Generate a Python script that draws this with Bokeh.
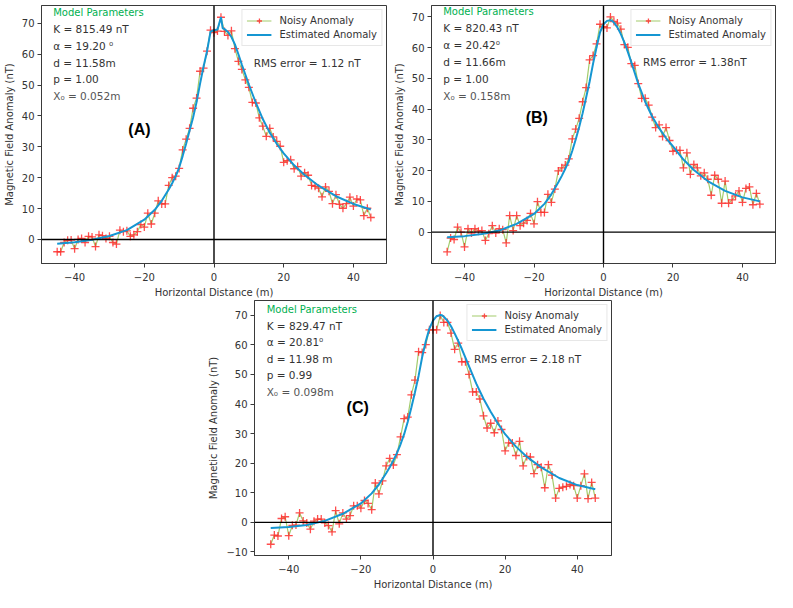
from bokeh.plotting import figure
from bokeh.models import (Span, Label, Legend, LegendItem, FixedTicker, Spacer,
                          CustomJSTickFormatter)
from bokeh.layouts import row, column
from bokeh.embed import file_html
from bokeh.resources import INLINE

# ---------------- data ----------------
x_vals = list(range(-45, 46))

noisy_A = [-4.0, -4.0, -1.0, -0.3, -0.2, -3.0, 0.0, 0.3, -1.0, 1.0,
           0.8, -2.3, 1.5, 1.2, 0.3, 1.0, -1.0, -1.5, 3.0, 2.5,
           2.8, 1.0, 1.5, 2.5, 4.8, 4.0, 8.5, 5.0, 8.5, 12.5,
           11.5, 11.5, 17.5, 20.0, 20.5, 23.0, 29.0, 32.5, 36.0, 42.5,
           45.8, 54.5, 55.5, 61.0, 67.8, 67.0, 67.5, 72.0, 67.4, 66.1,
           67.6, 61.8, 57.7, 55.1, 51.7, 49.3, 44.4, 44.2, 39.4, 36.7,
           33.4, 36.0, 33.2, 31.8, 30.2, 25.0, 25.5, 25.8, 22.9, 23.6,
           20.5, 21.6, 20.8, 17.5, 17.2, 16.6, 13.8, 17.0, 15.6, 11.6,
           14.5, 11.4, 10.1, 11.6, 13.7, 10.8, 13.1, 12.8, 7.7, 10.1,
           7.1]

noisy_B = [-6.4, -1.9, -2.4, 1.6, 0.0, -4.8, 1.1, -0.3, 1.1, 0.3,
           0.5, -2.7, -0.5, 2.1, -0.3, 1.1, 0.8, -3.5, 5.4, 0.5,
           5.4, 2.1, 2.9, 3.8, 6.1, 2.7, 9.9, 6.4, 6.4, 12.3,
           9.7, 14.0, 19.9, 20.9, 21.8, 23.8, 30.3, 33.5, 37.0, 42.4,
           47.0, 56.0, 57.4, 61.2, 67.6, 66.8, 66.4, 70.0, 68.5, 68.0,
           66.0, 61.0, 60.1, 54.8, 54.2, 48.3, 43.5, 43.5, 41.3, 37.4,
           34.0, 34.9, 31.1, 34.0, 29.8, 26.3, 26.6, 26.6, 20.9, 25.8,
           18.8, 22.0, 20.9, 18.3, 19.3, 17.2, 12.0, 18.5, 17.2, 9.4,
           16.6, 9.4, 10.5, 11.8, 13.4, 9.7, 14.2, 14.7, 8.9, 12.6,
           9.1]

noisy_C = [-7.4, -4.3, -4.6, 1.3, 1.9, -4.5, -1.0, -0.9, 3.2, 0.5,
           -0.2, -2.3, 0.4, 1.1, 1.1, -0.2, -1.1, -3.2, 4.0, -0.5,
           3.2, 1.1, 2.3, 5.6, 5.6, 4.8, 7.4, 6.4, 4.3, 13.3,
           9.6, 14.0, 19.1, 21.6, 19.4, 22.9, 28.9, 35.1, 35.6, 43.1,
           48.1, 57.7, 57.4, 60.1, 65.1, 65.1, 65.1, 69.9, 67.6, 67.6,
           64.0, 58.5, 60.6, 54.3, 54.3, 50.0, 44.1, 44.1, 41.7, 36.0,
           31.9, 33.5, 30.3, 34.3, 31.4, 24.2, 26.9, 26.8, 22.6, 27.4,
           19.1, 22.3, 22.1, 16.5, 19.5, 18.6, 11.7, 19.5, 16.0, 8.2,
           11.5, 11.9, 12.2, 12.8, 12.4, 8.2, 12.4, 16.4, 8.0, 13.5,
           8.2]

est_x = [-45, -40, -35, -30, -25, -20, -17, -15, -13,
         -12, -11, -10, -9, -8, -7, -6, -5, -4, -3, -2, -1,
         0, 1, 2, 2.5, 3, 4, 5, 6, 7, 8,
         10, 12, 14, 16, 18, 20, 23, 26, 30, 35, 40, 45]

est_A = [-1.4, -0.9, -0.1, 1.1, 3.0, 6.4, 9.6, 12.5, 16.2,
         18.2, 20.5, 23.3, 27.0, 31.0, 35.3, 39.5, 44.5, 50.5, 56.0, 61.0, 67.3,
         67.8, 68.0, 72.0, 68.4, 68.2, 67.2, 65.6, 63.2, 60.0, 56.6,
         50.2, 44.3, 39.0, 34.6, 31.0, 27.9, 24.0, 20.9, 17.4, 14.0, 11.5, 9.7]

est_B = [-1.7, -1.3, -0.6, 0.5, 2.7, 5.9, 9.2, 12.3, 16.2,
         18.3, 20.6, 23.1, 26.4, 30.1, 34.2, 38.7, 43.8, 48.9, 54.8, 60.1, 65.0,
         67.6, 68.7, 68.9, 68.7, 68.2, 66.6, 64.4, 61.7, 58.6, 55.3,
         48.3, 42.4, 37.6, 33.8, 30.6, 27.9, 23.6, 20.2, 16.6, 13.4, 11.3, 10.0]

est_C = [-1.9, -1.6, -0.9, 0.5, 2.9, 6.4, 9.8, 12.8, 16.6,
         18.6, 20.9, 23.4, 26.4, 29.8, 34.0, 38.8, 44.0, 49.5, 55.9, 61.2, 65.5,
         68.2, 69.7, 70.1, 70.0, 69.5, 68.2, 66.3, 63.9, 61.3, 58.6,
         52.7, 46.9, 41.8, 37.4, 33.4, 29.8, 25.6, 22.2, 18.6, 15.0, 12.6, 11.2]

params_A = ["K = 815.49 nT", "α = 19.20 ⁰", "d = 11.58m", "p = 1.00", "X₀ = 0.052m"]
params_B = ["K = 820.43 nT", "α = 20.42⁰", "d = 11.66m", "p = 1.00", "X₀ = 0.158m"]
params_C = ["K = 829.47 nT", "α = 20.81⁰", "d = 11.98 m", "p = 0.99", "X₀ = 0.098m"]
rms_A = "RMS error = 1.12 nT"
rms_B = "RMS error = 1.38nT"
rms_C = "RMS error = 2.18 nT"

x_ticks = [-40, -20, 0, 20, 40]
y_ticks_AB = [0, 10, 20, 30, 40, 50, 60, 70]
y_ticks_C = [-10, 0, 10, 20, 30, 40, 50, 60, 70]

# ---------------- style ----------------
FONT = "DejaVu Sans"
TXT = "#333333"
RED = "#ff2e2e"
GREEN_LINE = "#a3cc6c"
BLUE = "#1596d2"
PARAM_GREEN = "#00b050"
X_RANGE = (-49.5, 49.5)

minus_fmt = "return (tick < 0 ? '\u2212' + Math.abs(tick) : '' + tick);"


def make_panel(noisy, est, letter, params, rms, y_range, y_ticks,
               width, height, bl, br, bt, bb, letter_pos, top_frac):
    p = figure(width=width, height=height, x_range=X_RANGE, y_range=y_range,
               output_backend="svg", toolbar_location=None,
               min_border_left=bl, min_border_right=br,
               min_border_top=bt, min_border_bottom=bb)
    p.grid.visible = False
    p.outline_line_color = "#3a3a3a"
    p.outline_line_width = 1
    p.background_fill_color = "white"
    p.border_fill_color = "white"

    for ax in (p.xaxis[0], p.yaxis[0]):
        ax.minor_tick_line_color = None
        ax.major_tick_out = 4
        ax.major_tick_in = 0
        ax.major_tick_line_color = "#3a3a3a"
        ax.axis_line_color = "#3a3a3a"
        ax.major_label_text_font = FONT
        ax.major_label_text_font_size = "10px"
        ax.major_label_text_color = TXT
        ax.axis_label_text_font = FONT
        ax.axis_label_text_font_size = "10px"
        ax.axis_label_text_font_style = "normal"
        ax.axis_label_text_color = TXT
        ax.major_label_standoff = 3
        ax.axis_label_standoff = 4
        ax.formatter = CustomJSTickFormatter(code=minus_fmt)
    p.xaxis.major_label_standoff = 5
    p.xaxis.axis_label_standoff = 3
    p.xaxis.ticker = FixedTicker(ticks=x_ticks)
    p.yaxis.ticker = FixedTicker(ticks=y_ticks)
    p.xaxis.axis_label = "Horizontal Distance (m)"
    p.yaxis.axis_label = "Magnetic Field Anomaly (nT)"

    p.add_layout(Span(location=0, dimension="width", line_color="black", line_width=1.4))
    p.add_layout(Span(location=0, dimension="height", line_color="black", line_width=1.4))

    r_line = p.line(x_vals, noisy, line_color=GREEN_LINE, line_width=1.2)
    r_mark = p.scatter(x_vals, noisy, marker="cross", size=8,
                       line_color=RED, line_width=1.3, line_alpha=0.85)
    r_est = p.line(est_x, est, line_color=BLUE, line_width=2)

    legend = Legend(items=[LegendItem(label="Noisy Anomaly", renderers=[r_line, r_mark]),
                           LegendItem(label="Estimated Anomaly", renderers=[r_est])],
                    location="top_right", margin=4, padding=4, spacing=1,
                    glyph_width=25, glyph_height=13, label_height=13,
                    label_standoff=8,
                    label_text_font=FONT, label_text_font_size="10px",
                    label_text_color=TXT,
                    border_line_color="#d0d0d0", border_line_width=1,
                    background_fill_alpha=0.85)
    p.add_layout(legend)

    y0, y1 = y_range
    span_y = y1 - y0
    span_x = X_RANGE[1] - X_RANGE[0]
    tx = X_RANGE[0] + 0.034 * span_x

    def fy(frac):
        return y0 + frac * span_y

    p.add_layout(Label(x=tx, y=fy(top_frac), text="Model Parameters",
                       text_font=FONT, text_font_size="10px",
                       text_color=PARAM_GREEN, text_baseline="middle"))
    for i, t in enumerate(params):
        p.add_layout(Label(x=tx, y=fy(top_frac - 0.065 * (i + 1)), text=t,
                           text_font=FONT, text_font_size="10.5px",
                           text_color=TXT if i < 4 else "#555555",
                           text_baseline="middle"))
    p.add_layout(Label(x=X_RANGE[0] + 0.615 * span_x, y=fy(top_frac - 0.195), text=rms,
                       text_font=FONT, text_font_size="10.5px",
                       text_color=TXT, text_baseline="middle"))
    p.add_layout(Label(x=X_RANGE[0] + letter_pos[0] * span_x, y=fy(letter_pos[1]),
                       text=letter, text_font="Liberation Sans",
                       text_font_size="16px", text_font_style="bold",
                       text_color="black", text_align="center",
                       text_baseline="middle"))
    return p


pA = make_panel(noisy_A, est_A, "(A)", params_A, rms_A, (-7.8, 75.8), y_ticks_AB,
                width=390, height=300, bl=34, br=4, bt=2, bb=32,
                letter_pos=(0.284, 0.52), top_frac=0.974)
pB = make_panel(noisy_B, est_B, "(B)", params_B, rms_B, (-10.2, 73.7), y_ticks_AB,
                width=387, height=300, bl=40, br=2, bt=5, bb=37,
                letter_pos=(0.306, 0.567), top_frac=0.976)
pC = make_panel(noisy_C, est_C, "(C)", params_C, rms_C, (-11.2, 75.0), y_ticks_C,
                width=411, height=292, bl=40, br=5, bt=0, bb=30,
                letter_pos=(0.289, 0.581), top_frac=0.966)

layout = column(row(pA, pB), row(Spacer(width=205, height=292), pC))

open("out.html", "w").write(file_html(layout, INLINE))
